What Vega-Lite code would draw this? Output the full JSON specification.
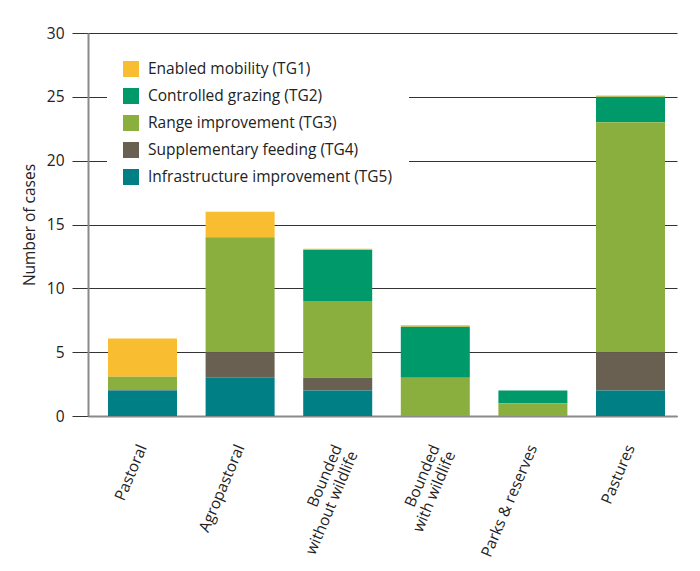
{
  "$schema": "https://vega.github.io/schema/vega-lite/v6.json",
  "autosize": {"type": "none"},
  "padding": {"left": 88, "top": 33, "right": 23, "bottom": 155},
  "width": 589,
  "height": 383,
  "background": "white",
  "config": {
    "font": "Open Sans",
    "view": {"stroke": null}
  },
  "data": {
    "values": [
      {"type": "Pastoral", "tg": "TG1", "group": "Enabled mobility (TG1)", "cases": 3},
      {"type": "Pastoral", "tg": "TG3", "group": "Range improvement (TG3)", "cases": 1},
      {"type": "Pastoral", "tg": "TG4", "group": "Supplementary feeding (TG4)", "cases": 0.08},
      {"type": "Pastoral", "tg": "TG5", "group": "Infrastructure improvement (TG5)", "cases": 2},
      {"type": "Agropastoral", "tg": "TG1", "group": "Enabled mobility (TG1)", "cases": 2},
      {"type": "Agropastoral", "tg": "TG3", "group": "Range improvement (TG3)", "cases": 9},
      {"type": "Agropastoral", "tg": "TG4", "group": "Supplementary feeding (TG4)", "cases": 2},
      {"type": "Agropastoral", "tg": "TG5", "group": "Infrastructure improvement (TG5)", "cases": 3},
      {"type": "Bounded|without wildlife", "tg": "TG1", "group": "Enabled mobility (TG1)", "cases": 0.1},
      {"type": "Bounded|without wildlife", "tg": "TG2", "group": "Controlled grazing (TG2)", "cases": 4},
      {"type": "Bounded|without wildlife", "tg": "TG3", "group": "Range improvement (TG3)", "cases": 6},
      {"type": "Bounded|without wildlife", "tg": "TG4", "group": "Supplementary feeding (TG4)", "cases": 1},
      {"type": "Bounded|without wildlife", "tg": "TG5", "group": "Infrastructure improvement (TG5)", "cases": 2},
      {"type": "Bounded|with wildlife", "tg": "TG1", "group": "Enabled mobility (TG1)", "cases": 0.1},
      {"type": "Bounded|with wildlife", "tg": "TG2", "group": "Controlled grazing (TG2)", "cases": 4},
      {"type": "Bounded|with wildlife", "tg": "TG3", "group": "Range improvement (TG3)", "cases": 3},
      {"type": "Parks & reserves", "tg": "TG2", "group": "Controlled grazing (TG2)", "cases": 1},
      {"type": "Parks & reserves", "tg": "TG3", "group": "Range improvement (TG3)", "cases": 1},
      {"type": "Pastures", "tg": "TG1", "group": "Enabled mobility (TG1)", "cases": 0.1},
      {"type": "Pastures", "tg": "TG2", "group": "Controlled grazing (TG2)", "cases": 2},
      {"type": "Pastures", "tg": "TG3", "group": "Range improvement (TG3)", "cases": 18},
      {"type": "Pastures", "tg": "TG4", "group": "Supplementary feeding (TG4)", "cases": 3},
      {"type": "Pastures", "tg": "TG5", "group": "Infrastructure improvement (TG5)", "cases": 2}
    ]
  },
  "mark": {"type": "bar"},
  "encoding": {
    "x": {
      "field": "type",
      "type": "nominal",
      "sort": null,
      "scale": {"paddingInner": 0.293, "paddingOuter": 0.164, "align": 0.625},
      "axis": {
        "title": null,
        "labelExpr": "split(datum.label, '|')",
        "labelAngle": -67,
        "labelAlign": "right",
        "labelBaseline": "middle",
        "labelPadding": 29,
        "labelFontSize": 15.5,
        "labelColor": "#222",
        "labelLineHeight": 17,
        "ticks": false,
        "tickSize": 0,
        "domainColor": "#8a8a8a",
        "domainWidth": 2,
        "grid": false
      }
    },
    "y": {
      "field": "cases",
      "type": "quantitative",
      "stack": "zero",
      "scale": {"domain": [0, 30], "nice": false},
      "axis": {
        "title": "Number of cases",
        "titleFontSize": 15.5,
        "titleFontWeight": "normal",
        "titleColor": "#222",
        "titlePadding": 9,
        "values": [0, 5, 10, 15, 20, 25, 30],
        "labelFontSize": 15.5,
        "labelColor": "#222",
        "labelPadding": 8,
        "tickSize": 16,
        "tickColor": "#333",
        "tickWidth": 1,
        "grid": true,
        "gridColor": "#333",
        "gridWidth": 1,
        "gridOpacity": 1,
        "domainColor": "#8a8a8a",
        "domainWidth": 2
      }
    },
    "color": {
      "field": "group",
      "type": "nominal",
      "scale": {
        "domain": ["Enabled mobility (TG1)", "Controlled grazing (TG2)", "Range improvement (TG3)", "Supplementary feeding (TG4)", "Infrastructure improvement (TG5)"],
        "range": ["#F8BD30", "#009A6A", "#8BAF3E", "#6A6052", "#007F85"]
      },
      "legend": {
        "title": null,
        "orient": "none",
        "legendX": 19,
        "legendY": 12,
        "padding": 16,
        "fillColor": "white",
        "strokeColor": null,
        "symbolType": "square",
        "symbolSize": 256,
        "symbolStrokeWidth": 0,
        "symbolOpacity": 1,
        "rowPadding": 10,
        "labelFontSize": 15.5,
        "labelColor": "#222",
        "labelOffset": 9,
        "labelLimit": 400
      }
    },
    "order": {"field": "tg", "sort": "descending"}
  }
}
